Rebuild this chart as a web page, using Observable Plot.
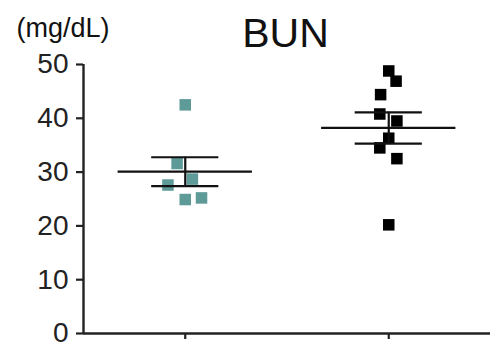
<!DOCTYPE html>
<html><head><meta charset="utf-8">
<script src="https://cdn.jsdelivr.net/npm/d3@7"></script>
<script src="https://cdn.jsdelivr.net/npm/@observablehq/plot@0.6"></script>
<style>body{margin:0;background:#fff;} svg{display:block;}</style>
</head><body><div id="chart"></div>
<script>
const title = "BUN";
const unitLabel = "(mg/dL)";
const yTicks = [0, 10, 20, 30, 40, 50];
const groups = [1, 2];
const group1Values = [42.5, 31.6, 28.7, 27.6, 24.9, 25.2];
const group1Jitter = [0, -0.04, 0.035, -0.085, 0, 0.08];
const group2Values = [48.8, 46.9, 44.4, 40.8, 39.5, 36.3, 34.5, 32.5, 20.2];
const group2Jitter = [0, 0.036, -0.04, -0.044, 0.04, 0, -0.044, 0.04, 0];
const groupColors = ["#5e9b98", "#000000"];

const points = [
  ...group1Values.map((v, i) => ({g: 1, x: 1 + group1Jitter[i], y: v})),
  ...group2Values.map((v, i) => ({g: 2, x: 2 + group2Jitter[i], y: v}))
];
const stats = [[1, group1Values], [2, group2Values]].map(([g, vals]) => {
  const m = d3.mean(vals), sem = d3.deviation(vals) / Math.sqrt(vals.length);
  return {g, mean: m, lo: m - sem, hi: m + sem};
});

const chart = Plot.plot({
  width: 492, height: 348,
  marginLeft: 83, marginRight: 2, marginTop: 64, marginBottom: 15,
  style: {fontFamily: "Liberation Sans, Arial, sans-serif", background: "#fff"},
  x: {type: "linear", domain: [0.5, 2.5], axis: null},
  y: {type: "linear", domain: [0, 50], axis: null},
  color: {type: "ordinal", domain: groups, range: groupColors},
  marks: [
    Plot.axisY({ticks: yTicks, tickSize: 7, tickPadding: 8, fontSize: 28, stroke: "#222", strokeWidth: 2.2, color: "#222"}),
    Plot.axisX({ticks: groups, tickFormat: () => "", tickSize: 6, tickPadding: 0, stroke: "#222", strokeWidth: 2.2}),
    Plot.ruleX([0.5], {y1: 0, y2: 50, stroke: "#222", strokeWidth: 2.4}),
    Plot.ruleY([0], {x1: 0.5, x2: 2.5, stroke: "#222", strokeWidth: 2.4}),
    Plot.dot(points, {x: "x", y: "y", symbol: "square", r: 6.5, fill: "g", stroke: null}),
    Plot.ruleY(stats, {y: "mean", x1: d => d.g - 0.33, x2: d => d.g + 0.33, stroke: "#111", strokeWidth: 2.2}),
    Plot.ruleY(stats, {y: "hi", x1: d => d.g - 0.165, x2: d => d.g + 0.165, stroke: "#111", strokeWidth: 2.2}),
    Plot.ruleY(stats, {y: "lo", x1: d => d.g - 0.165, x2: d => d.g + 0.165, stroke: "#111", strokeWidth: 2.2}),
    Plot.ruleX(stats, {x: "g", y1: "lo", y2: "hi", stroke: "#111", strokeWidth: 2.2}),
    Plot.text([title], {frameAnchor: "top", dx: -1.5, dy: -18, lineAnchor: "bottom", text: d => d, fontSize: 41, fill: "#111"}),
    Plot.text([unitLabel], {frameAnchor: "top-left", dx: -67, dy: -28, lineAnchor: "bottom", text: d => d, fontSize: 27, fill: "#111", textAnchor: "start"})
  ]
});
document.getElementById("chart").append(chart);
</script></body></html>
